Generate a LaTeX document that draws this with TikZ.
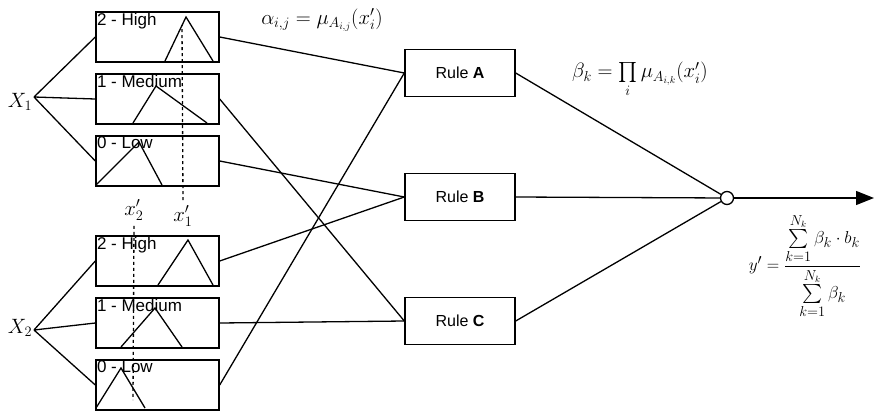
\documentclass[tikz,border=0pt]{standalone}
\usepackage{amsmath, amssymb}
\usepackage{fontspec}
\newfontfamily\arialish{Liberation Sans}
\usetikzlibrary{arrows.meta}
\usetikzlibrary{positioning}
\tikzset{
    mf/.style={
        draw,
        line width=1.4pt,
        rectangle,
        minimum width=123pt,
        minimum height=50pt,
        inner sep=0pt
    },
    rule/.style={
        draw,
        line width=1.4pt,
        rectangle,
        minimum width=110pt,
        minimum height=47pt,
        font=\arialish\fontsize{16}{19}\selectfont
    },
    tag/.style={font=\arialish\fontsize{17}{20}\selectfont, inner sep=1.5pt},
    wire/.style={line width=1.3pt}
}
\begin{document}
\begin{tikzpicture}[x=1pt, y=-1pt]
    \useasboundingbox (0,0) rectangle (882,415);
    % Membership boxes
    \node[mf] (h1) at (157.5,37) {};
    \node[mf] (m1) at (157.5,99) {};
    \node[mf] (l1) at (157.5,161) {};
    \node[mf] (h2) at (157.5,261) {};
    \node[mf] (m2) at (157.5,323) {};
    \node[mf] (l2) at (157.5,385) {};
    \foreach \b/\t in {h1/2 - High, m1/1 - Medium, l1/0 - Low, h2/2 - High, m2/1 - Medium, l2/0 - Low}
        \node[tag, anchor=north west] at (\b.north west) {\t};

    % Triangles
    \draw[wire] (165,61) -- (186,17) -- (213,61);
    \draw[wire] (133,123) -- (156,86) -- (207,123);
    \draw[wire] (96,185) -- (139,142) -- (162,185);
    \draw[wire] (158,285) -- (188,240) -- (213,285);
    \draw[wire] (121,347) -- (155,308) -- (182,347);
    \draw[wire] (96,408) -- (121,368) -- (145,408);

    % Inputs
    \node (x1) at (20,102) {\fontsize{22}{24}\selectfont $X_1$};
    \node (x2) at (20,328) {\fontsize{22}{24}\selectfont $X_2$};
    \coordinate (x1o) at (34,97);
    \coordinate (x2o) at (34,330);
    \draw[wire] (x1o) -- (h1.west) (x1o) -- (m1.west) (x1o) -- (l1.west);
    \draw[wire] (x2o) -- (h2.west) (x2o) -- (m2.west) (x2o) -- (l2.west);

    % Crisp values
    \node (v1) at (183,216) {\fontsize{20}{22}\selectfont $x_1'$};
    \node (v2) at (134,210) {\fontsize{20}{22}\selectfont $x_2'$};
    \coordinate (v1t) at (182,25);
    \coordinate (v2b) at (133,400);
    \draw[wire, dashed] (v1.north) ++(0,-2) -- (v1t);
    \draw[wire, dashed] (v2.south) ++(0,2) -- (v2b);

    % Rules
    \node[rule] (ra) at (460,73) {Rule \textbf{A}};
    \node[rule] (rb) at (460,197) {Rule \textbf{B}};
    \node[rule] (rc) at (460,321) {Rule \textbf{C}};
    \draw[wire] (h1.east) -- (ra.west);
    \draw[wire] (l2.east) -- (ra.west);
    \draw[wire] (l1.east) -- (rb.west);
    \draw[wire] (h2.east) -- (rb.west);
    \draw[wire] (m1.east) -- (rc.west);
    \draw[wire] (m2.east) -- (rc.west);

    % Output
    \node[draw, wire, circle, minimum size=13pt, inner sep=0pt] (sum) at (727,198) {};
    \coordinate (out) at (874,198);
    \draw[wire] (ra.east) -- (sum) (rb.east) -- (sum) (rc.east) -- (sum);
    \draw[wire, -{Triangle[length=18pt, width=14pt]}] (sum) -- (out);

    % Formulas
    \node (alpha) at (322,20) {\fontsize{20}{22}\selectfont $\alpha_{i,j}=\mu_{A_{i,j}}\!\left(x_i'\right)$};
    \node (beta) at (640,80) {\fontsize{20}{22}\selectfont $\beta_k=\prod\limits_i \mu_{A_{i,k}}\!\left(x_i'\right)$};
    \node (ypr) at (805,266) {\fontsize{19}{21}\selectfont $y'=\dfrac{\sum\limits_{k=1}^{N_k}\beta_k\cdot b_k}{\sum\limits_{k=1}^{N_k}\beta_k}$};
\end{tikzpicture}
\end{document}
